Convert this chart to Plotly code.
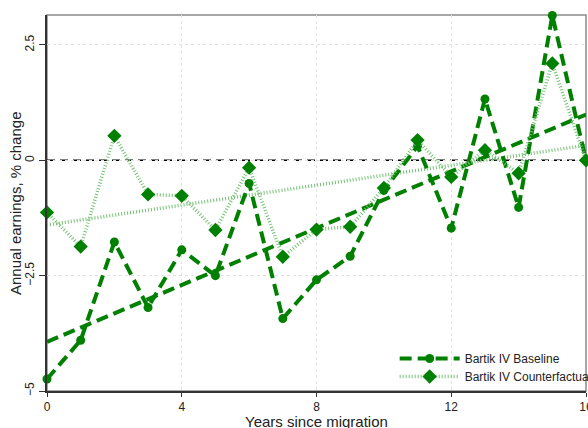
import numpy as np
import plotly.graph_objects as go

# Event-time estimates of annual earnings change by years since migration
years = list(range(17))
baseline = [-4.74, -3.90, -1.77, -3.19, -1.94, -2.50, -0.50, -3.43, -2.59,
            -2.08, -0.65, 0.31, -1.47, 1.33, -1.02, 3.14, 0.00]
counterfactual = [-1.13, -1.87, 0.53, -0.74, -0.77, -1.51, -0.16, -2.09, -1.50,
                  -1.44, -0.60, 0.44, -0.36, 0.22, -0.28, 2.10, 0.00]

x_ticks = [0, 4, 8, 12, 16]
y_ticks = [-5, -2.5, 0, 2.5]
y_tick_text = ["\u22125", "\u22122.5", "0", "2.5"]

dark_green = "#008000"
light_green = "#74c274"

x = np.array(years, dtype=float)
fit_base = np.polyval(np.polyfit(x, baseline, 1), x)
fit_cf = np.polyval(np.polyfit(x, counterfactual, 1), x)

fig = go.Figure()

# linear trends
fig.add_trace(go.Scatter(x=years, y=fit_base, mode="lines", showlegend=False,
                         line=dict(color=dark_green, width=4, dash="12px,6px"),
                         hoverinfo="skip"))
fig.add_trace(go.Scatter(x=years, y=fit_cf, mode="lines", showlegend=False,
                         line=dict(color=light_green, width=3.5, dash="1px,2px"),
                         hoverinfo="skip"))

# point estimates
fig.add_trace(go.Scatter(x=years, y=baseline, mode="lines+markers",
                         name="Bartik IV Baseline", cliponaxis=False, legend="legend",
                         line=dict(color=dark_green, width=4, dash="12px,6px"),
                         marker=dict(symbol="circle", size=9, color=dark_green)))
fig.add_trace(go.Scatter(x=years, y=counterfactual, mode="lines+markers",
                         name="Bartik IV Counterfactual", cliponaxis=False, legend="legend2",
                         line=dict(color=light_green, width=3.5, dash="1px,2px"),
                         marker=dict(symbol="diamond", size=11, color=dark_green)))

legend_style = dict(xanchor="left", yanchor="top", bgcolor="rgba(0,0,0,0)",
                    font=dict(size=12, color="#222"), itemwidth=60)

fig.update_layout(
    width=588, height=428,
    margin=dict(l=47, r=2, t=15, b=37, autoexpand=False),
    paper_bgcolor="white", plot_bgcolor="white",
    font=dict(family="Liberation Sans, Arial, sans-serif", size=12, color="#222"),
    showlegend=True,
    legend=dict(x=0.645, y=0.125, **legend_style),
    legend2=dict(x=0.645, y=0.125 - 18 / 376, **legend_style),
    shapes=[
        # plot region outline (top and right)
        dict(type="rect", xref="paper", yref="paper", x0=0, x1=1, y0=0, y1=1,
             line=dict(color="#8a8a8a", width=1.5), layer="below"),
        # reference line at zero
        dict(type="line", xref="paper", yref="y", x0=0, x1=1, y0=0, y1=0,
             line=dict(color="black", width=1.5, dash="8px,5px"), layer="between"),
    ],
    annotations=[
        dict(text="Years since migration", xref="paper", yref="paper",
             x=0.5, y=-0.08, xanchor="center", yanchor="middle",
             showarrow=False, font=dict(size=15, color="#222")),
        dict(text="Annual earnings, % change", xref="paper", yref="paper",
             x=-0.0594, y=0.5, xanchor="center", yanchor="middle", textangle=-90,
             showarrow=False, font=dict(size=15, color="#222")),
    ],
)

fig.update_xaxes(range=[0, 16], tickvals=x_ticks, ticks="outside", ticklen=4,
                 tickwidth=1, tickcolor="#333", showline=True, linecolor="#333",
                 linewidth=2, showgrid=True, gridcolor="#e2e2e2", griddash="dot",
                 gridwidth=1, zeroline=False, tickfont=dict(size=12),
                 ticklabeloverflow="allow")
fig.update_yaxes(range=[-5, 3.15], tickvals=y_ticks, ticktext=y_tick_text,
                 tickangle=-90, ticks="outside", ticklen=6, tickwidth=1,
                 tickcolor="#333", showline=True, linecolor="#333", linewidth=2,
                 showgrid=True, gridcolor="#e2e2e2", griddash="dot", gridwidth=1,
                 zeroline=False, tickfont=dict(size=12))

fig.write_html("out.html")
